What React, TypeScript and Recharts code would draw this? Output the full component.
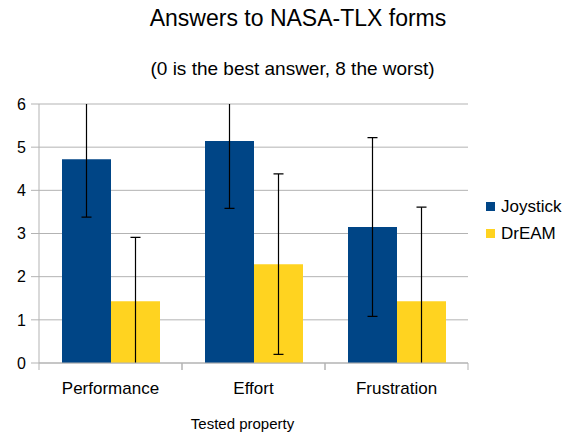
import React from 'react';
import { BarChart, Bar, XAxis, YAxis, CartesianGrid, ErrorBar, Legend } from 'recharts';

const categories = ['Performance', 'Effort', 'Frustration'];
const joystickMeans = [4.72, 5.14, 3.15];
const joystickErrors = [1.34, 1.56, 2.07];
const dreamMeans = [1.43, 2.29, 1.43];
const dreamErrors = [1.48, 2.09, 2.18];
const yTicks = [0, 1, 2, 3, 4, 5, 6];
const seriesNames = ['Joystick', 'DrEAM'];
const chartTitle = 'Answers to NASA-TLX forms';
const chartSubtitle = '(0 is the best answer, 8 the worst)';
const xAxisTitle = 'Tested property';

const data = categories.map((c, i) => ({
  category: c,
  joystick: joystickMeans[i],
  joystickErr: joystickErrors[i],
  dream: dreamMeans[i],
  dreamErr: dreamErrors[i],
}));

const FONT = '"Liberation Sans", Arial, sans-serif';
const GRID = '#b3b3b3';
const BLUE = '#004586';
const YELLOW = '#ffd320';

const XTick = (props: any) => {
  const { x, y, payload } = props;
  const half = payload && typeof payload.offset === 'number' ? payload.offset : 0;
  return (
    <g>
      <line x1={x - half} x2={x - half} y1={y} y2={y + 7} stroke={GRID} />
      <line x1={x + half} x2={x + half} y1={y} y2={y + 7} stroke={GRID} />
      <text x={x} y={y + 31} textAnchor="middle" fontSize={17} fill="#000" fontFamily={FONT}>
        {payload.value}
      </text>
    </g>
  );
};

const renderLegend = (props: any) => {
  const payload = [...(props.payload || [])].sort(
    (a: any, b: any) => seriesNames.indexOf(a.value) - seriesNames.indexOf(b.value)
  );
  return (
    <svg width={98} height={60} style={{ display: 'block', fontFamily: FONT }}>
      {payload.map((p: any, i: number) => (
        <g key={p.value}>
          <rect x={6} y={12 + i * 27} width={9} height={9} fill={p.color} />
          <text x={21} y={21.7 + i * 27} fontSize={17} fill="#000">
            {p.value}
          </text>
        </g>
      ))}
    </svg>
  );
};

export default function App() {
  return (
    <div style={{ position: 'absolute', left: 0, top: 0, width: 578, height: 437, fontFamily: FONT, background: '#fff' }}>
      <BarChart
        width={578}
        height={437}
        data={data}
        margin={{ top: 104, right: 110, bottom: 0, left: 0 }}
        barCategoryGap={23}
        barGap={0}
        style={{ fontFamily: FONT }}
      >
        <CartesianGrid vertical={false} stroke={GRID} strokeWidth={1} />
        <XAxis
          dataKey="category"
          height={74}
          axisLine={{ stroke: GRID }}
          tickLine={false}
          tickSize={0}
          tickMargin={0}
          interval={0}
          tick={<XTick />}
          label={{ value: xAxisTitle, position: 'insideBottom', offset: 8, dx: -11, fill: '#000', fontSize: 15 }}
        />
        <YAxis
          domain={[0, 6]}
          ticks={yTicks}
          allowDataOverflow
          interval={0}
          width={39}
          axisLine={{ stroke: GRID }}
          tickLine={{ stroke: GRID }}
          tickSize={8}
          tickMargin={5}
          tick={{ fill: '#000', fontSize: 16 }}
        />
        <YAxis
          yAxisId="right"
          orientation="right"
          domain={[0, 6]}
          width={0}
          tick={false}
          tickLine={false}
          axisLine={{ stroke: GRID }}
        />
        <Legend
          layout="horizontal"
          verticalAlign="middle"
          align="center"
          content={renderLegend}
          wrapperStyle={{ position: 'absolute', left: 480, top: 190, width: 98, height: 60 }}
        />
        <Bar id="joy" dataKey="joystick" name={seriesNames[0]} fill={BLUE} isAnimationActive={false}>
          <ErrorBar
            dataKey="joystickErr"
            width={5}
            stroke="#000"
            strokeWidth={1.2}
            direction="y"
            clipPath="url(#clipPath-joy)"
          />
        </Bar>
        <Bar id="drm" dataKey="dream" name={seriesNames[1]} fill={YELLOW} isAnimationActive={false}>
          <ErrorBar
            dataKey="dreamErr"
            width={5}
            stroke="#000"
            strokeWidth={1.2}
            direction="y"
            clipPath="url(#clipPath-drm)"
          />
        </Bar>
      </BarChart>
      <svg
        width={578}
        height={437}
        style={{ position: 'absolute', left: 0, top: 0, pointerEvents: 'none', fontFamily: FONT }}
      >
        <text x={298} y={26} textAnchor="middle" fontSize={23} fill="#000">
          {chartTitle}
        </text>
        <text x={292.5} y={75} textAnchor="middle" fontSize={19} fill="#000">
          {chartSubtitle}
        </text>
      </svg>
    </div>
  );
}
